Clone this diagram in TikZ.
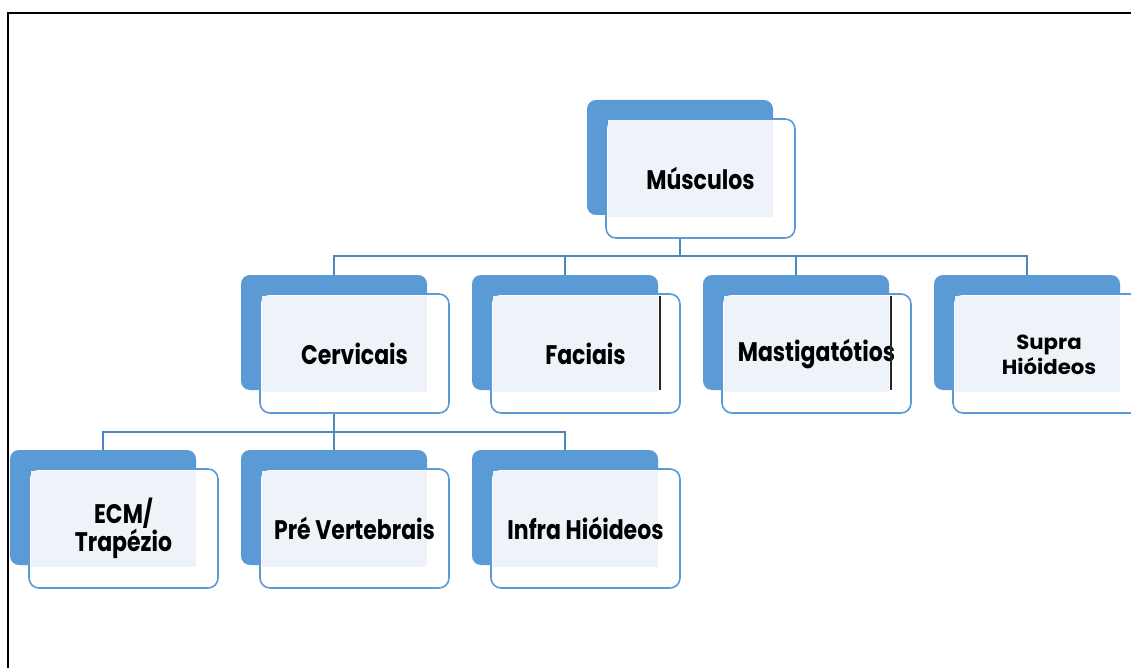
\documentclass[tikz,border=0pt]{standalone}
\usepackage{fontspec}
\setmainfont{Poppins}
\usetikzlibrary{calc}
\definecolor{bblue}{HTML}{5B9BD5}
\definecolor{pale}{HTML}{EEF3FA}
\definecolor{lineblue}{HTML}{4F86C0}
\tikzset{
  backbox/.style={fill=bblue, rounded corners=9pt, minimum width=186pt, minimum height=115pt, inner sep=0pt},
  frontbox/.style={draw=bblue, line width=1.6pt, fill=white, rounded corners=10pt, minimum width=189pt, minimum height=119pt, inner sep=0pt},
  lbl/.style={font=\fontsize{22}{20}\selectfont\bfseries, align=center, text=black, yscale=1.22},
  conn/.style={draw=lineblue, line width=1.6pt},
  artline/.style={draw=black!85, line width=1.3pt}
}
% #1 name, #2 back x-left, #3 back y-top, #4 text
\newcommand\orgbox[4]{%
  \node[backbox] (#1B) at (#2+93, #3+57.5) {};
  \node[frontbox] (#1F) at (#2+19+94.5, #3+19+59.5) {};
  \fill[pale] (#2+20.5, #3+20.5) rectangle (#2+186, #3+117);
  \node[lbl] (#1T) at (#1F.center) {#4};
}
\begin{document}
\begin{tikzpicture}[x=1pt,y=-1pt]
\useasboundingbox (0,0) rectangle (1131,668);
\fill[white] (0,0) rectangle (1131,668);
\draw[line width=1.5pt] (8,668) -- (8,13) -- (1131,13);

\orgbox{m}{587}{100}{Músculos}
\orgbox{c}{241}{275}{Cervicais}
\orgbox{f}{472}{275}{Faciais}
\orgbox{g}{703}{275}{Mastigatótios}
\orgbox{s}{934}{275}{}
\node[font=\fontsize{17}{21}\selectfont\bfseries, align=center, xscale=1.25, yscale=1.2] (sT2) at (1049,355) {Supra\\Hióideos};
\orgbox{e}{10}{450}{ECM/\\Trapézio}
\orgbox{p}{241}{450}{Pré Vertebrais}
\orgbox{i}{472}{450}{Infra Hióideos}

\draw[artline] (660,296) -- (660,390);
\draw[artline] (891,296) -- (891,390);

\coordinate (mbus) at (680,256);
\coordinate (cbus) at (334,432);
\draw[conn] (mF.south -| mB.center) -- (mbus);
\draw[conn] (mbus) -| (cB.north);
\draw[conn] (mbus) -| (fB.north);
\draw[conn] (mbus) -| (gB.north);
\draw[conn] (mbus) -| (sB.north);
\draw[conn] (cF.south -| cB.center) -- (cbus);
\draw[conn] (cbus) -| (eB.north);
\draw[conn] (cbus) -| (pB.north);
\draw[conn] (cbus) -| (iB.north);
\end{tikzpicture}
\end{document}
